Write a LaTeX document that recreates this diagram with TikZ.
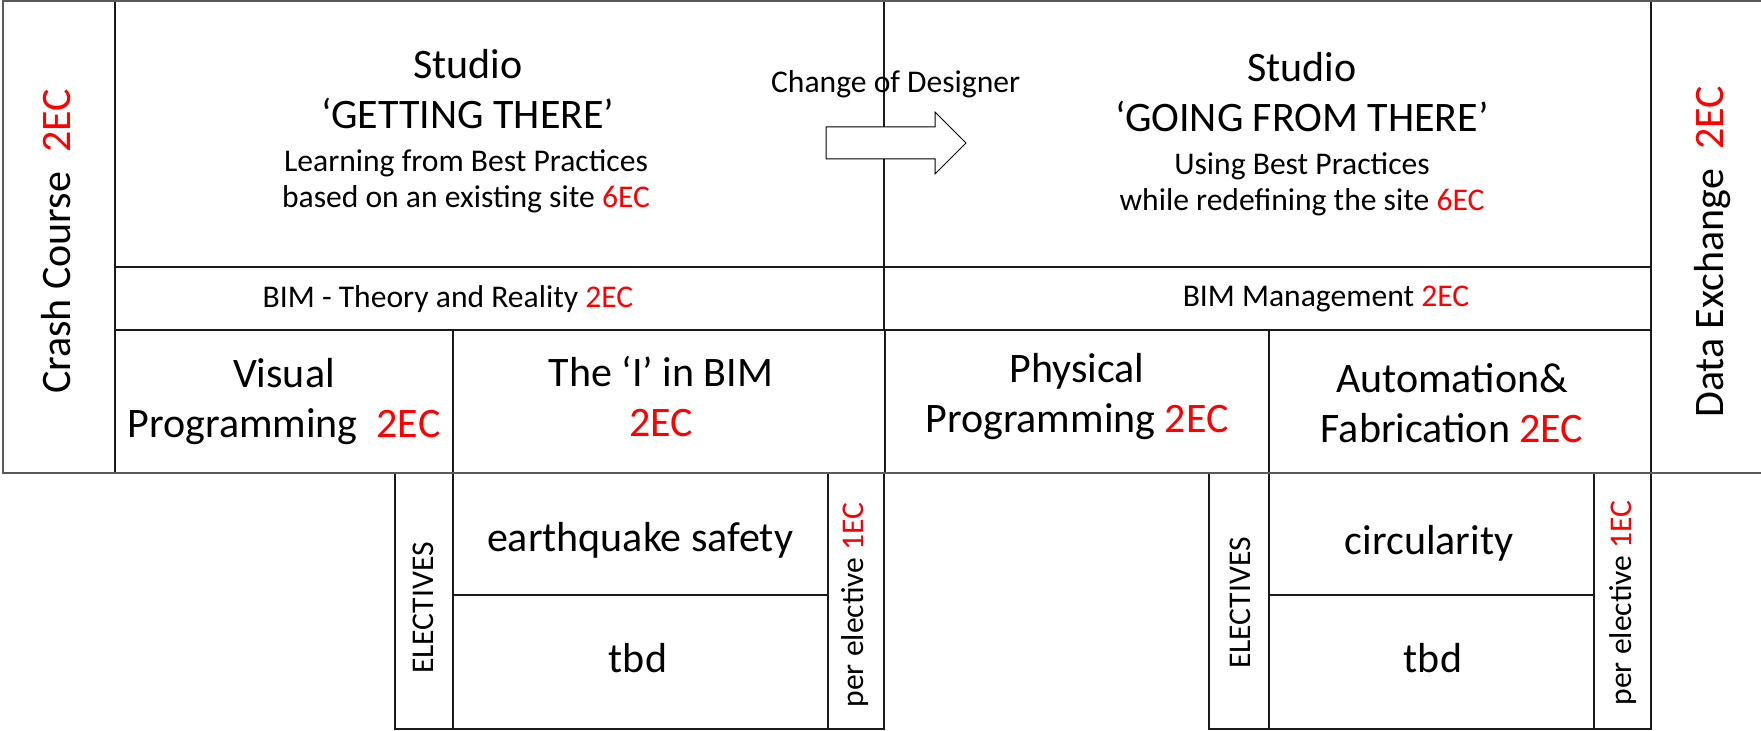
\documentclass[tikz,border=0pt]{standalone}
\usepackage{fontspec}
\setmainfont{Carlito}
\usetikzlibrary{fit}
\definecolor{ecred}{HTML}{FF0000}
\definecolor{rule}{HTML}{1A1A1A}
\definecolor{frame}{HTML}{5A5A5A}
\newcommand{\ec}[1]{\textcolor{ecred}{#1}}

\begin{document}
\begin{tikzpicture}[x=0.5pt, y=-0.5pt,
  cell/.style={draw=rule, line width=1pt, inner sep=0pt},
  rim/.style={draw=frame, line width=1pt},
  big/.style={font=\fontsize{21}{25}\selectfont, align=center, anchor=base, inner sep=0pt},
  small/.style={font=\fontsize{15.8}{18}\selectfont, align=center, anchor=base, inner sep=0pt},
  blockarrow/.style={draw=black, line width=0.5pt, fill=white},
]
\useasboundingbox (0,0) rectangle (1761,731);

% first row: studios
\node[cell, fit={(2.7,1.3) (114.5,473)}] (crash) {};
\node[cell, fit={(114.5,1.3) (884,267)}] (studioL) {};
\node[cell, fit={(884,1.3) (1651,267)}] (studioR) {};
\node[cell, fit={(1651,1.3) (1763,473)}] (data) {};

% BIM row
\node[cell, fit={(114.5,267) (884,330)}] (bimL) {};
\node[cell, fit={(884,267) (1651,330)}] (bimR) {};

% courses
\node[cell, fit={(114.5,330) (453,473)}] (visual) {};
\node[cell, fit={(453,330) (885,473)}] (info) {};
\node[cell, fit={(885,330) (1269,473)}] (physical) {};
\node[cell, fit={(1269,330) (1651,473)}] (auto) {};

% electives
\node[cell, fit={(395,473) (453,729)}] (elecL) {};
\node[cell, fit={(453,473) (828,595)}] (quake) {};
\node[cell, fit={(453,595) (828,729)}] (tbdL) {};
\node[cell, fit={(828,473) (884,729)}] (perL) {};
\node[cell, fit={(1209,473) (1269,729)}] (elecR) {};
\node[cell, fit={(1269,473) (1594,595)}] (circ) {};
\node[cell, fit={(1269,595) (1594,729)}] (tbdR) {};
\node[cell, fit={(1594,473) (1651,729)}] (perR) {};

% outer frame
\draw[rim] (1763,1.3) -| (2.7,473) -- (1763,473);

% change of designer
\draw[blockarrow] (826,127) -- (935,127) -- (935,112) -- (966,143)
  -- (935,174) -- (935,159) -- (826,159) -- cycle;
\node[small] (change) at (895.7,93) {Change of Designer};

% texts (base = last line)
\node[big, rotate=90] (crashT) at (70,241.5) {Crash Course~~\ec{2EC}};
\node[big, rotate=90] (dataT) at (1723,252) {Data Exchange~~\ec{2EC}};

\node[big] (studioLT) at (468,129) {Studio\\‘GETTING THERE’};
\node[small] (studioLS) at (466,208) {Learning from Best Practices\\based on an existing site \ec{6EC}};
\node[big] (studioRT) at (1302,131.5) {Studio\\‘GOING FROM THERE’};
\node[small] (studioRS) at (1302,210.5) {Using Best Practices\\while redefining the site \ec{6EC}};

\node[small] (bimLT) at (448,308) {BIM - Theory and Reality \ec{2EC}};
\node[small] (bimRT) at (1326,307) {BIM Management \ec{2EC}};

\node[big] (visualT) at (284,438) {Visual\\Programming~~\ec{2EC}};
\node[big] (infoT) at (661,437) {The ‘I’ in BIM\\\ec{2EC}};
\node[big] (physicalT) at (1077,433) {Physical\\Programming \ec{2EC}};
\node[big] (autoT) at (1452,443) {Automation\&\\Fabrication \ec{2EC}};

\node[small, rotate=90] (elecLT) at (433,608) {ELECTIVES};
\node[big] (quakeT) at (640,552) {earthquake safety};
\node[big] (tbdLT) at (638,672) {tbd};
\node[small, rotate=90] (perLT) at (863.5,605) {per elective \ec{1EC}};
\node[small, rotate=90] (elecRT) at (1250,603) {ELECTIVES};
\node[big] (circT) at (1429,555) {circularity};
\node[big] (tbdRT) at (1433,672) {tbd};
\node[small, rotate=90] (perRT) at (1631,603) {per elective \ec{1EC}};
\end{tikzpicture}
\end{document}
